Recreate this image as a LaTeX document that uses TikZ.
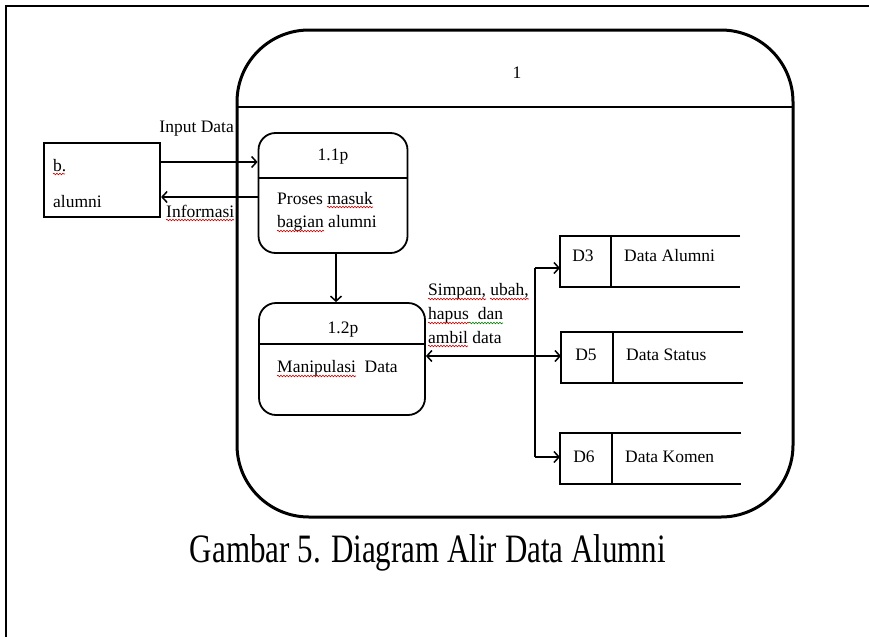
\documentclass[tikz,border=0pt]{standalone}
\usepackage{fontspec}
\setmainfont{Liberation Serif}
\usetikzlibrary{arrows.meta,decorations.pathmorphing}
\newcommand\dfs{\fontsize{17.5}{20}\selectfont}
\tikzset{
  frame/.style={line width=1.3pt},
  proc/.style={draw, line width=1.8pt, rounded corners=17pt, inner sep=0pt},
  ent/.style={draw, line width=2.2pt, inner sep=0pt},
  storebox/.style={inner sep=0pt, minimum height=50pt},
  storeline/.style={line width=1.8pt},
  flow/.style={line width=1.5pt, -{Straight Barb[length=5pt,width=11pt,line width=1.5pt]}},
  lbl/.style={font=\dfs, inner sep=0pt},
  lbll/.style={font=\dfs, inner sep=0pt, anchor=west},
  squig/.style={red!80!black, line width=0.6pt, decorate, decoration={snake, amplitude=0.8pt, segment length=3pt}},
}
\begin{document}
\begin{tikzpicture}[x=1pt,y=-1pt]
\useasboundingbox (0,0) rectangle (869,637);
% outer frame
\draw[frame] (6,637) -- (6,6) -- (869,6);
% big process 1
\draw[line width=3pt, rounded corners=72pt] (237,30) rectangle (793,517);
\draw[line width=1.5pt] (237,107) -- (793,107);
\node[lbl] (t1) at (517,73) {1};
% external entity
\node[ent, minimum width=116pt, minimum height=74pt] (ent) at (102,180) {};
\node[lbll] (entb) at (53,166) {b.};
\node[lbll] (enta) at (53,202) {alumni};
% process 1.1p
\node[proc, minimum width=149pt, minimum height=120pt] (p11) at (333,193) {};
\coordinate (d11) at (0,178);
\draw[line width=1.8pt] (p11.west |- d11) -- (p11.east |- d11);
\node[lbl] (p11n) at (333,157) {1.1p};
\node[lbll] (p11a) at (277,199) {Proses masuk};
\node[lbll] (p11b) at (277,223) {bagian alumni};
% process 1.2p
\node[proc, minimum width=166pt, minimum height=112pt] (p12) at (342,359) {};
\coordinate (d12) at (0,344);
\draw[line width=1.8pt] (p12.west |- d12) -- (p12.east |- d12);
\node[lbl] (p12n) at (343,330) {1.2p};
\node[lbll] (p12a) at (277,368) {Manipulasi\ \ Data};
% data stores
\node[storebox, minimum width=180pt, anchor=west] (d3) at (560,261.5) {};
\node[storebox, minimum width=182pt, anchor=west] (d5) at (561,357.5) {};
\node[storebox, minimum width=181pt, anchor=west] (d6) at (560,458.5) {};
\foreach \s/\dx in {d3/51, d5/52, d6/52} {
  \draw[storeline] (\s.north east) -- (\s.north west) -- (\s.south west) -- (\s.south east);
  \draw[storeline] ([xshift=\dx pt]\s.north west) -- ([xshift=\dx pt]\s.south west);
}
\node[lbl] (d3n) at (583,256) {D3};
\node[lbll] (d3t) at (624,256) {Data Alumni};
\node[lbl] (d5n) at (586,355) {D5};
\node[lbll] (d5t) at (626,355) {Data Status};
\node[lbl] (d6n) at (584,457) {D6};
\node[lbll] (d6t) at (625,457) {Data Komen};
% flows
\coordinate (yin) at (0,162);
\coordinate (yout) at (0,197);
\draw[flow] (ent.east |- yin) -- (p11.west |- yin);
\draw[flow] (p11.west |- yout) -- (ent.east |- yout);
\node[lbl, anchor=east] (lin) at (234,129) {Input Data};
\node[lbl, anchor=west] (lout) at (166,211) {Informasi};
\coordinate (p11b1) at (336,0);
\draw[flow] (p11.south -| p11b1) -- (p12.north -| p11b1);
% bus to stores
\coordinate (bus3) at (535,268);
\coordinate (bus6) at (535,457);
\coordinate (y5) at (0,356);
\draw[line width=1.5pt] (bus3) -- (bus6);
\draw[flow] (bus3) -- (d3.west |- bus3);
\draw[flow] (bus6) -- (d6.west |- bus6);
\draw[flow, {Straight Barb[length=5pt,width=11pt,line width=1.5pt]}-{Straight Barb[length=5pt,width=11pt,line width=1.5pt]}] (p12.east |- y5) -- (d5.west |- y5);
\node[lbll] (s1) at (428,291) {Simpan, ubah,};
\node[lbll] (s2) at (428,315) {hapus\ \ dan};
\node[lbll] (s3) at (428,338) {ambil data};
% spell-check squiggles
\draw[squig] (53,174) -- (65,174);
\draw[squig] (166,220) -- (234,220);
\draw[squig] (327,207) -- (373,207);
\draw[squig] (277,231) -- (324,231);
\draw[squig] (277,376) -- (356,376);
\draw[squig] (428,299) -- (486,299);
\draw[squig] (490,299) -- (529,299);
\draw[squig] (428,323) -- (469,323);
\draw[squig, green!50!black] (469,323) -- (503,323);
\draw[squig] (428,346) -- (468,346);
% caption
\node[inner sep=0pt] (cap) at (428,553) {\scalebox{1}[1.3]{\fontsize{31}{36}\selectfont Gambar 5. Diagram Alir Data Alumni}};
\end{tikzpicture}
\end{document}
